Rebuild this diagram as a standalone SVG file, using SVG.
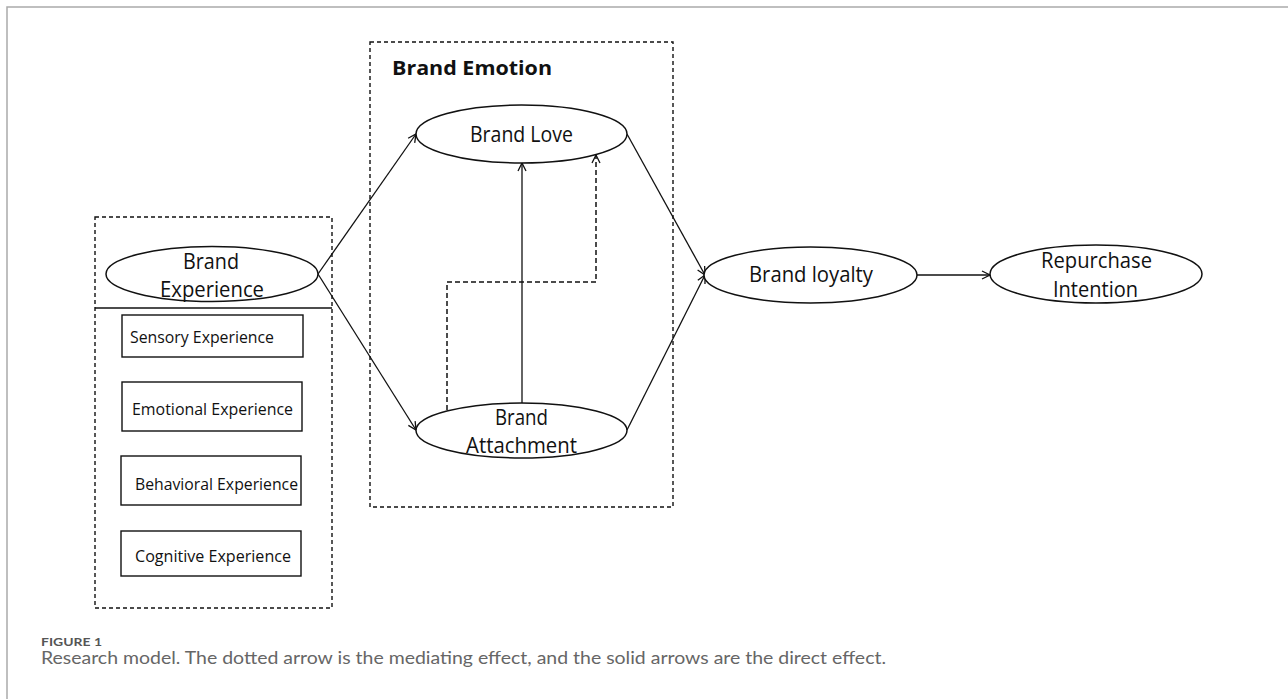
<svg xmlns="http://www.w3.org/2000/svg" width="1288" height="699" viewBox="0 0 1288 699">
<style>
.frame{fill:none;stroke:#aaaaaa;stroke-width:1.5}
.dbox{fill:none;stroke:#111;stroke-width:1.4;stroke-dasharray:4 3}
.ell{fill:#fff;stroke:#111;stroke-width:1.5}
.rect{fill:#fff;stroke:#111;stroke-width:1.4}
.t{font-family:"Open Sans","Liberation Sans",sans-serif;fill:#111;}
.tl{font-size:21px}
.ts{font-size:16px}
.tb{font-size:20px;font-weight:bold}
.con{fill:none;stroke:#111;stroke-width:1.3}
.dash{stroke-dasharray:5 3;stroke-width:1.5}
.cap{font-family:Lato,"Open Sans","Liberation Sans",sans-serif;fill:#666}
</style>
<defs>
<marker id="arr" markerWidth="10" markerHeight="10" refX="9" refY="5" orient="auto" markerUnits="userSpaceOnUse">
<path d="M1,1 L9,5 L1,9" fill="none" stroke="#111" stroke-width="1.3"/>
</marker>
</defs>
<rect width="1288" height="699" fill="#fff"/>
<path class="frame" d="M7,699 L7,7 L1288,7"/>

<g id="brand-experience-group">
<rect class="dbox" x="95" y="217" width="237" height="391"/>
<line x1="95" y1="308" x2="332" y2="308" stroke="#111" stroke-width="1.4"/>
</g>
<g id="brand-emotion-group">
<rect class="dbox" x="370" y="42" width="303" height="465"/>
<text class="t tb" x="392" y="75" textLength="160" lengthAdjust="spacingAndGlyphs">Brand Emotion</text>
</g>

<g id="connectors">
<line class="con" x1="318" y1="274" x2="416" y2="134" marker-end="url(#arr)"/>
<line class="con" x1="318" y1="274" x2="416" y2="430" marker-end="url(#arr)"/>
<line class="con" x1="522" y1="403" x2="522" y2="163" marker-end="url(#arr)"/>
<path class="con dash" d="M447,410 L447,282 L596,282 L596,155" marker-end="url(#arr)"/>
<line class="con" x1="627" y1="134" x2="705" y2="275" marker-end="url(#arr)"/>
<line class="con" x1="627" y1="430" x2="705" y2="275" marker-end="url(#arr)"/>
<line class="con" x1="917" y1="275" x2="990" y2="275" marker-end="url(#arr)"/>
</g>

<g id="brand-experience">
<ellipse class="ell" cx="212" cy="274" rx="106" ry="27.5"/>
<text class="t tl" x="183" y="269" textLength="56" lengthAdjust="spacingAndGlyphs">Brand</text>
<text class="t tl" x="160" y="297" textLength="104" lengthAdjust="spacingAndGlyphs">Experience</text>
</g>
<g id="sensory-experience">
<rect class="rect" x="122" y="315" width="181" height="42"/>
<text class="t ts" x="130" y="343" textLength="144" lengthAdjust="spacingAndGlyphs">Sensory Experience</text>
</g>
<g id="emotional-experience">
<rect class="rect" x="122" y="382" width="180" height="49"/>
<text class="t ts" x="132" y="415" textLength="161" lengthAdjust="spacingAndGlyphs">Emotional Experience</text>
</g>
<g id="behavioral-experience">
<rect class="rect" x="121" y="456" width="180" height="49"/>
<text class="t ts" x="135" y="490" textLength="163" lengthAdjust="spacingAndGlyphs">Behavioral Experience</text>
</g>
<g id="cognitive-experience">
<rect class="rect" x="121" y="531" width="180" height="45"/>
<text class="t ts" x="135" y="562" textLength="156" lengthAdjust="spacingAndGlyphs">Cognitive Experience</text>
</g>
<g id="brand-love">
<ellipse class="ell" cx="521.5" cy="134" rx="105.5" ry="29"/>
<text class="t tl" x="470" y="142" textLength="103" lengthAdjust="spacingAndGlyphs">Brand Love</text>
</g>
<g id="brand-attachment">
<ellipse class="ell" cx="521.5" cy="430.5" rx="105.5" ry="27.5"/>
<text class="t tl" x="495" y="425" textLength="53" lengthAdjust="spacingAndGlyphs">Brand</text>
<text class="t tl" x="466" y="453" textLength="111" lengthAdjust="spacingAndGlyphs">Attachment</text>
</g>
<g id="brand-loyalty">
<ellipse class="ell" cx="810.5" cy="275" rx="106.5" ry="28"/>
<text class="t tl" x="749" y="282" textLength="124" lengthAdjust="spacingAndGlyphs">Brand loyalty</text>
</g>
<g id="repurchase-intention">
<ellipse class="ell" cx="1096" cy="274" rx="106" ry="29"/>
<text class="t tl" x="1041" y="268" textLength="111" lengthAdjust="spacingAndGlyphs">Repurchase</text>
<text class="t tl" x="1053" y="297" textLength="85" lengthAdjust="spacingAndGlyphs">Intention</text>
</g>

<g id="caption">
<text class="cap" x="41" y="646" font-size="12" font-weight="bold" style="fill:#555" textLength="61" lengthAdjust="spacingAndGlyphs">FIGURE 1</text>
<text class="cap" x="41" y="664" font-size="17" textLength="845" lengthAdjust="spacingAndGlyphs">Research model. The dotted arrow is the mediating effect, and the solid arrows are the direct effect.</text>
</g>
</svg>
